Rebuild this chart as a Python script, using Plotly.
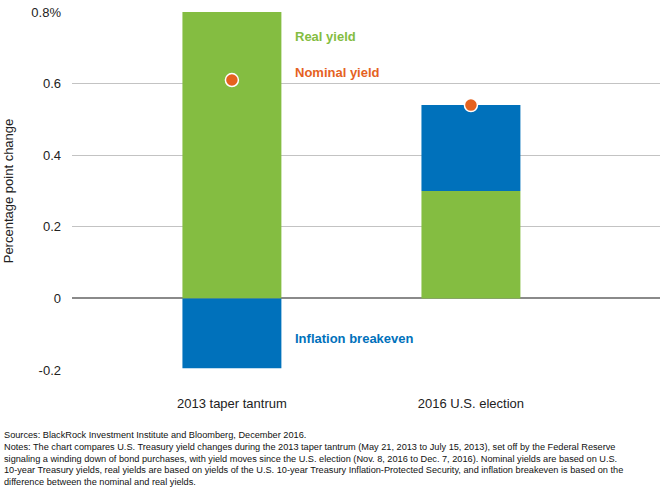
import plotly.graph_objects as go

categories = ["2013 taper tantrum", "2016 U.S. election"]
real_yield = [0.80, 0.30]
inflation_breakeven = [-0.195, 0.24]
nominal_yield = [0.61, 0.54]
y_tickvals = [-0.2, 0, 0.2, 0.4, 0.6, 0.8]
y_ticktext = ["-0.2", "0", "0.2", "0.4", "0.6", "0.8%"]

GREEN = "#84bd41"
BLUE = "#0071bb"
ORANGE = "#e5621f"
FONT = "Liberation Sans, Arial, sans-serif"

fig = go.Figure()
fig.add_trace(go.Bar(x=categories, y=real_yield, marker=dict(color=GREEN, line=dict(width=0)),
                     width=0.414, name="Real yield"))
base_be = [0 if v < 0 else r for v, r in zip(inflation_breakeven, real_yield)]
fig.add_trace(go.Bar(x=categories, y=inflation_breakeven, base=base_be,
                     marker=dict(color=BLUE, line=dict(width=0)), width=0.414,
                     name="Inflation breakeven"))
fig.add_trace(go.Scatter(x=categories, y=nominal_yield, mode="markers",
                         marker=dict(color=ORANGE, size=13, line=dict(color="white", width=1.5)),
                         name="Nominal yield"))

fig.update_layout(
    width=660, height=490,
    margin=dict(l=72, r=0, t=12, b=120, autoexpand=False),
    barmode="overlay",
    showlegend=False,
    plot_bgcolor="white", paper_bgcolor="white",
    font=dict(family=FONT, size=13, color="#222"),
    xaxis=dict(range=[-0.669, 1.791], showgrid=False, zeroline=False, showline=False,
               automargin=False,
               ticks="", ticklabelstandoff=24, tickfont=dict(size=13, color="#222")),
    yaxis=dict(range=[-0.2, 0.8], tickvals=y_tickvals, ticktext=y_ticktext,
               automargin=False,
               showgrid=True, gridcolor="#c3c3c3", gridwidth=1,
               zeroline=True, zerolinecolor="#8a8a8a", zerolinewidth=1.5,
               showline=False, ticks="", ticklabelstandoff=10,
               tickfont=dict(size=13, color="#222"),
               title=dict(text="Percentage point change", font=dict(size=13, color="#222"), standoff=14)),
)

label_x = 0.255
fig.add_annotation(x=label_x, y=0.731, xref="x", yref="y", text="<b>Real yield</b>",
                   showarrow=False, xanchor="left", font=dict(color=GREEN, size=13))
fig.add_annotation(x=label_x, y=0.630, xref="x", yref="y", text="<b>Nominal yield</b>",
                   showarrow=False, xanchor="left", font=dict(color=ORANGE, size=13))
fig.add_annotation(x=label_x, y=-0.112, xref="x", yref="y", text="<b>Inflation breakeven</b>",
                   showarrow=False, xanchor="left", font=dict(color=BLUE, size=13))

notes = [
    "Sources: BlackRock Investment Institute and Bloomberg, December 2016.",
    "Notes: The chart compares U.S. Treasury yield changes during the 2013 taper tantrum (May 21, 2013 to July 15, 2013), set off by the Federal Reserve",
    "signaling a winding down of bond purchases, with yield moves since the U.S. election (Nov. 8, 2016 to Dec. 7, 2016). Nominal yields are based on U.S.",
    "10-year Treasury yields, real yields are based on yields of the U.S. 10-year Treasury Inflation-Protected Security, and inflation breakeven is based on the",
    "difference between the nominal and real yields.",
]
for i, line in enumerate(notes):
    px_y = 435 + i * 11.8
    fig.add_annotation(x=(2 - 72) / 588, y=(490 - px_y - 120) / 358, xref="paper", yref="paper",
                       text=line, showarrow=False, xanchor="left", yanchor="middle",
                       font=dict(size=9.2, color="#111"))

fig.write_html("out.html", config={"displayModeBar": False},
               post_script="document.body.style.margin='0';document.body.style.overflow='hidden';")
